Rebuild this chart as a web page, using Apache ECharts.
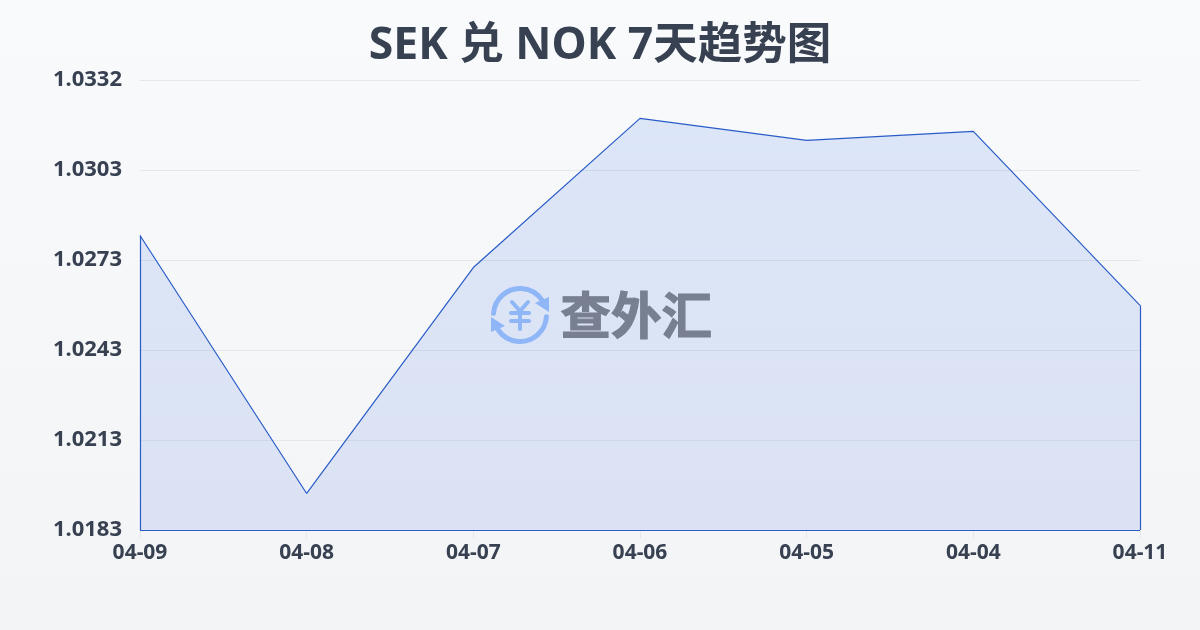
<!DOCTYPE html>
<html><head><meta charset="utf-8">
<style>html,body{margin:0;padding:0;width:1200px;height:630px;overflow:hidden;background:#f6f7f9}#c{width:1200px;height:630px}</style>
<script src="https://cdn.jsdelivr.net/npm/echarts@6/dist/echarts.min.js"></script>
</head><body><div id="c"></div>
<script>
const titleText = 'SEK 兑 NOK 7天趋势图';
const categories = ['04-09','04-08','04-07','04-06','04-05','04-04','04-11'];
const rates = [1.02805,1.01951,1.02699,1.03193,1.0312,1.0315,1.02574];
const yTickLabels = ['1.0183','1.0213','1.0243','1.0273','1.0303','1.0332'];
const yMin = 1.0183, yMax = 1.0332;
const FONT = '"Noto Sans","Noto Sans CJK SC",sans-serif';
const lineColor = '#2a5cc8';
const chart = echarts.init(document.getElementById('c'), null, {renderer:'canvas'});
const iconColor = '#8fb6f6';
chart.setOption({
  animation:false,
  backgroundColor:new echarts.graphic.LinearGradient(0,0,0,1,[{offset:0,color:'#f8fafc'},{offset:1,color:'#f3f4f6'}]),
  title:{text:titleText,left:'center',top:19,textStyle:{fontFamily:FONT,fontSize:44.5,fontWeight:700,color:'#374151'}},
  grid:{left:140,right:60,top:80,bottom:100,containLabel:false},
  xAxis:{type:'category',boundaryGap:false,data:categories,
    axisLine:{show:false},
    axisTick:{show:true,length:8,lineStyle:{color:'#e5e7eb',width:1}},
    axisLabel:{fontFamily:FONT,fontSize:21,fontWeight:700,color:'#374151',margin:13,interval:0,showMinLabel:true,showMaxLabel:true},
    splitLine:{show:false}},
  yAxis:{type:'value',min:yMin,max:yMax,interval:(yMax-yMin)/5,
    axisLine:{show:false},axisTick:{show:false},
    axisLabel:{fontFamily:FONT,fontSize:22,fontWeight:700,color:'#374151',margin:18,
      formatter:function(v){const i=Math.round((v-yMin)/(yMax-yMin)*5);return yTickLabels[i];}},
    splitLine:{show:true,lineStyle:{color:'#e5e7eb',width:1}}},
  series:[{type:'line',data:rates,symbol:'none',smooth:false,
    lineStyle:{color:lineColor,width:1.2},
    areaStyle:{color:new echarts.graphic.LinearGradient(0,0,0,1,[{offset:0,color:'rgba(29,99,225,0.18)'},{offset:1,color:'rgba(29,78,216,0.16)'}])},
    markLine:{silent:true,symbol:'none',label:{show:false},animation:false,
      lineStyle:{color:lineColor,width:1.2,type:'solid'},
      data:[
        [{xAxis:categories[0],yAxis:rates[0]},{xAxis:categories[0],yAxis:yMin}],
        [{xAxis:categories[6],yAxis:rates[6]},{xAxis:categories[6],yAxis:yMin}],
        [{xAxis:categories[0],yAxis:yMin},{xAxis:categories[6],yAxis:yMin}]
      ]}
  }],
  graphic:[
    {type:'arc',z:50,shape:{cx:520,cy:315,r:26.5,startAngle:Math.PI*1.02,endAngle:Math.PI*1.82,clockwise:true},style:{fill:null,stroke:iconColor,lineWidth:5,lineCap:'round'}},
    {type:'arc',z:50,shape:{cx:520,cy:315,r:26.5,startAngle:Math.PI*0.02,endAngle:Math.PI*0.82,clockwise:true},style:{fill:null,stroke:iconColor,lineWidth:5,lineCap:'round'}},
    {type:'polygon',z:50,shape:{points:[[549,297],[549,312],[535,303]]},style:{fill:iconColor}},
    {type:'polygon',z:50,shape:{points:[[491,317],[491,332],[505,326]]},style:{fill:iconColor}},
    {type:'polyline',z:50,shape:{points:[[512,302],[520,311],[528,302]]},style:{fill:null,stroke:iconColor,lineWidth:4,lineCap:'round',lineJoin:'round'}},
    {type:'line',z:50,shape:{x1:511,y1:313,x2:529,y2:313},style:{stroke:iconColor,lineWidth:4,lineCap:'round'}},
    {type:'line',z:50,shape:{x1:511,y1:321,x2:529,y2:321},style:{stroke:iconColor,lineWidth:4,lineCap:'round'}},
    {type:'line',z:50,shape:{x1:520,y1:311,x2:520,y2:329},style:{stroke:iconColor,lineWidth:4,lineCap:'round'}},
    {type:'text',z:50,left:560,top:289,style:{text:'查外汇',fontFamily:'"Noto Sans CJK SC",sans-serif',fontSize:50.5,fontWeight:700,fill:'#777f90',stroke:'#777f90',lineWidth:1.2}}
  ]
});
</script></body></html>
